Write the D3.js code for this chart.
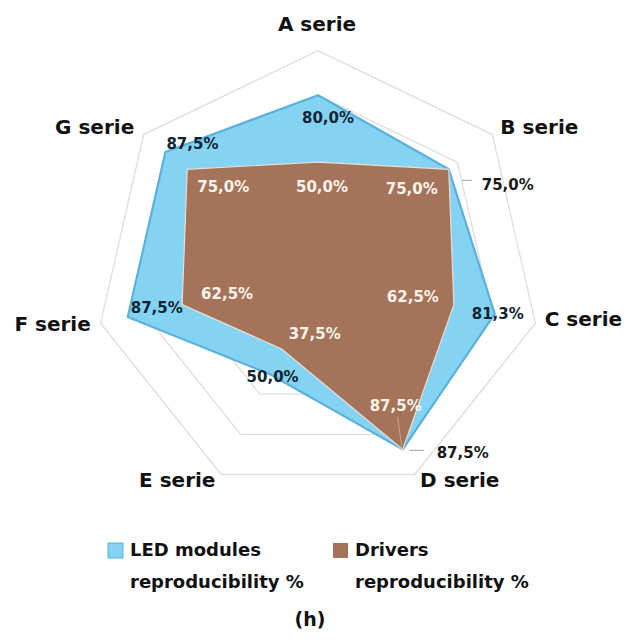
<!DOCTYPE html>
<html>
  <head>
    <title>Reproducibility radar</title>
    <meta charset="UTF-8">
    <style>
      body { margin: 0; background: #fff; }
      text { font-family: "DejaVu Sans", sans-serif; font-weight: bold; }
    </style>
  </head>
  <body>
    <div id="chart"></div>
    <script src="https://d3js.org/d3.v7.min.js" charset="utf-8"></script>
    <script>

// categories and series (percent)
var axes = ["A serie", "B serie", "C serie", "D serie", "E serie", "F serie", "G serie"];
var ledValues = [80.0, 75.0, 81.3, 87.5, 50.0, 87.5, 87.5];
var driverValues = [50.0, 75.0, 62.5, 87.5, 37.5, 62.5, 75.0];
var gridLevels = [20, 40, 60, 80, 100];
var seriesNames = [["LED modules", "reproducibility %"], ["Drivers", "reproducibility %"]];

// label offsets from the data point (dx, dy), in px
var ledLabelOffset = [[10, 23], [59, 16], [3, 1], [60, 4], [3, 3], [29, -9], [27, -7]];
var drvLabelOffset = [[4, 25], [-37, 20], [-41, -7], [-7, -43], [33, -14], [45, -10], [36, 18]];
var axisLabelOffset = [[-1, -25], [47, -6], [48, -3], [45, 7], [-44, 7], [-48, 2], [-49, -6]];

var fmt = function(v) { return d3.format(".1f")(v).replace(".", ",") + "%"; };

var W = 626, H = 643,
    cx = 318, cy = 273.6, R = 223;

var svg = d3.select("#chart").append("svg")
    .attr("width", W).attr("height", H);

var r = d3.scaleLinear().domain([0, 100]).range([0, R]);
var angle = d3.scalePoint().domain(axes).range([0, 2 * Math.PI * 6 / 7]);

function pt(ax, v) {
  var a = angle(ax);
  return [cx + r(v) * Math.sin(a), cy - r(v) * Math.cos(a)];
}

var line = d3.line().curve(d3.curveLinearClosed);

// grid rings
svg.append("g").selectAll("path")
  .data(gridLevels)
  .enter().append("path")
    .attr("d", function(lv) { return line(axes.map(function(ax) { return pt(ax, lv); })); })
    .attr("fill", "none")
    .attr("stroke", "#dedede")
    .attr("stroke-width", 1.3);

// LED area
svg.append("path")
  .attr("d", line(axes.map(function(ax, i) { return pt(ax, ledValues[i]); })))
  .attr("fill", "#85d3f2")
  .attr("stroke", "#5bb0dc")
  .attr("stroke-width", 2.2)
  .attr("stroke-linejoin", "round");

// Drivers area
svg.append("path")
  .attr("d", line(axes.map(function(ax, i) { return pt(ax, driverValues[i]); })))
  .attr("fill", "#a5735a")
  .attr("stroke", "#e8ddd4")
  .attr("stroke-width", 1.2);

// leader lines
var bPt = pt(axes[1], ledValues[1]);
svg.append("line").attr("x1", bPt[0] + 13).attr("y1", bPt[1] + 11).attr("x2", bPt[0] + 23).attr("y2", bPt[1] + 11)
  .attr("stroke", "#a0a0a0").attr("stroke-width", 1);
var dPt = pt(axes[3], ledValues[3]);
svg.append("line").attr("x1", dPt[0] + 7).attr("y1", dPt[1] + 1).attr("x2", dPt[0] + 21).attr("y2", dPt[1] + 1)
  .attr("stroke", "#a0a0a0").attr("stroke-width", 1);
var ddPt = pt(axes[3], driverValues[3]);
svg.append("line").attr("x1", ddPt[0] - 1).attr("y1", ddPt[1] - 3).attr("x2", ddPt[0] - 5).attr("y2", ddPt[1] - 32)
  .attr("stroke", "#c9a48e").attr("stroke-width", 1);

// drivers labels
svg.append("g").selectAll("text")
  .data(driverValues)
  .enter().append("text")
    .attr("x", function(v, i) { return pt(axes[i], v)[0] + drvLabelOffset[i][0]; })
    .attr("y", function(v, i) { return pt(axes[i], v)[1] + drvLabelOffset[i][1]; })
    .attr("text-anchor", "middle")
    .attr("dominant-baseline", "middle")
    .attr("font-size", 15)
    .attr("fill", "#fbf3ea")
    .text(fmt);

// LED labels
svg.append("g").selectAll("text")
  .data(ledValues)
  .enter().append("text")
    .attr("x", function(v, i) { return pt(axes[i], v)[0] + ledLabelOffset[i][0]; })
    .attr("y", function(v, i) { return pt(axes[i], v)[1] + ledLabelOffset[i][1]; })
    .attr("text-anchor", "middle")
    .attr("dominant-baseline", "middle")
    .attr("font-size", 15)
    .attr("fill", function(v, i) { return i == 1 || i == 3 ? "#1a1a1a" : "#0f2533"; })
    .text(fmt);

// axis labels
svg.append("g").selectAll("text")
  .data(axes)
  .enter().append("text")
    .attr("x", function(ax, i) { return pt(ax, 100)[0] + axisLabelOffset[i][0]; })
    .attr("y", function(ax, i) { return pt(ax, 100)[1] + axisLabelOffset[i][1]; })
    .attr("text-anchor", "middle")
    .attr("dominant-baseline", "middle")
    .attr("font-size", 20)
    .attr("fill", "#111")
    .text(function(d) { return d; });

// legend
var legendColors = ["#85d3f2", "#a5735a"];
var legendX = [108, 333];
var lg = svg.append("g").selectAll("g")
  .data(seriesNames)
  .enter().append("g")
    .attr("transform", function(d, i) { return "translate(" + legendX[i] + ",543)"; });
lg.append("rect")
  .attr("width", 15).attr("height", 15)
  .attr("fill", function(d, i) { return legendColors[i]; })
  .attr("stroke", function(d, i) { return i == 0 ? "#5bb0dc" : "none"; });
lg.append("text")
  .attr("x", 22).attr("y", 8)
  .attr("dominant-baseline", "middle")
  .attr("font-size", 18).attr("fill", "#111")
  .text(function(d) { return d[0]; });
lg.append("text")
  .attr("x", 22).attr("y", 40)
  .attr("dominant-baseline", "middle")
  .attr("font-size", 18).attr("fill", "#111")
  .text(function(d) { return d[1]; });

svg.append("text")
  .attr("x", 310).attr("y", 620)
  .attr("text-anchor", "middle")
  .attr("dominant-baseline", "middle")
  .attr("font-size", 19).attr("fill", "#111")
  .text("(h)");

    </script>
  </body>
</html>
